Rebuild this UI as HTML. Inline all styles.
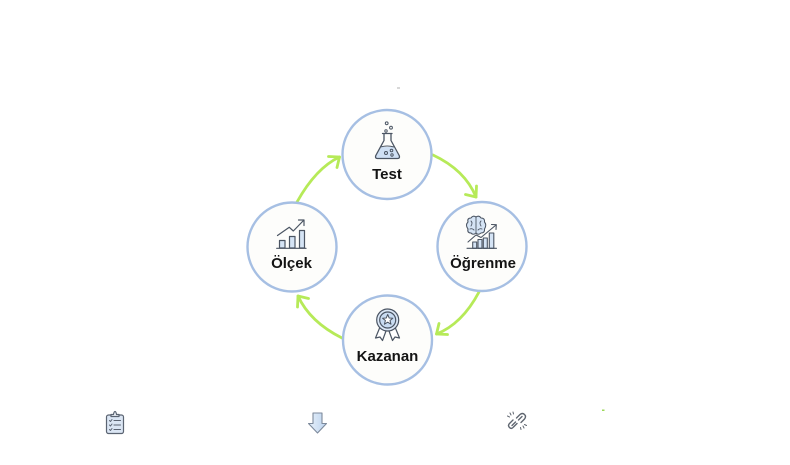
<!DOCTYPE html>
<html><head><meta charset="utf-8"><style>
html,body{margin:0;padding:0;background:#fff;width:790px;height:465px;overflow:hidden}
svg{display:block}
text{font-family:"Liberation Sans",Arial,sans-serif;font-weight:700;font-size:15px;fill:#141414;text-anchor:middle}
</style></head><body>
<svg width="790" height="465" viewBox="0 0 790 465" xmlns="http://www.w3.org/2000/svg">
<rect width="790" height="465" fill="#fff"/>
<!-- tiny marks -->
<rect x="397" y="87.5" width="3" height="1" fill="#b0b0b0"/>
<rect x="602" y="409.5" width="2.5" height="1.5" fill="#9cd85a"/>

<!-- arrows -->
<g fill="none" stroke="#b6ea58" stroke-width="2.8" stroke-linecap="round" stroke-linejoin="round">
  <path d="M297,202 Q316,168 339.5,157"/>
  <path d="M328.5,156.5 L339.5,157 L337,167.5"/>
  <path d="M433,155 Q465,170 476,197"/>
  <path d="M476.5,186 L476,197 L465.5,194.5"/>
  <path d="M479,292 Q462,324 436.5,334"/>
  <path d="M447.5,334.5 L436.5,334 L439,323.5"/>
  <path d="M342,338 Q310,322 298,296"/>
  <path d="M297.5,307 L298,296 L308.5,298.5"/>
</g>

<!-- circles -->
<g fill="#fdfdfb" stroke="#a6bfe3" stroke-width="2.4">
  <circle cx="387" cy="154.5" r="44.5"/>
  <circle cx="482" cy="246.5" r="44.5"/>
  <circle cx="387.5" cy="340" r="44.5"/>
  <circle cx="292" cy="247" r="44.5"/>
</g>

<!-- Test flask icon -->
<g stroke="#4b5563" stroke-width="1.3" stroke-linejoin="round" stroke-linecap="round">
  <path d="M381.5,147 L393,147 L399.5,156 Q400.5,158.5 398,158.5 L377,158.5 Q374.5,158.5 375.5,156 Z" fill="#cfe0f4" stroke="none"/>
  <path d="M382.5,133.5 L392,133.5 M384,133.5 L384,140.5 L375.8,155.5 Q374.8,158.5 377.5,158.5 L397.5,158.5 Q400.2,158.5 399.2,155.5 L391,140.5 L391,133.5" fill="none"/>
  <path d="M380.5,147 Q387,145 394,147" fill="none" stroke-width="1"/>
  <circle cx="386.7" cy="123.3" r="1.4" fill="none" stroke-width="1"/>
  <circle cx="391" cy="127.7" r="1.4" fill="none" stroke-width="1"/>
  <circle cx="386" cy="131" r="1.2" fill="none" stroke-width="1"/>
  <circle cx="386" cy="153" r="1.5" fill="none" stroke-width="1"/>
  <circle cx="391.5" cy="150.5" r="1.3" fill="none" stroke-width="1"/>
  <circle cx="392" cy="155" r="1.2" fill="none" stroke-width="1"/>
</g>
<text x="387" y="179">Test</text>

<!-- Ölçek chart icon -->
<g stroke="#4b5563" stroke-width="1.2" stroke-linejoin="round" stroke-linecap="round">
  <rect x="279.5" y="240.5" width="5.5" height="7.5" fill="#d5e4f5"/>
  <rect x="289.5" y="236.5" width="5.5" height="11.5" fill="#d5e4f5"/>
  <rect x="299.5" y="230.5" width="5" height="17.5" fill="#d5e4f5"/>
  <path d="M276.7,248.3 L306,248.3" fill="none"/>
  <path d="M277.5,235.5 L289.3,227.3 L293.3,231 L303.5,220.5" fill="none"/>
  <path d="M298.5,220 L304,220 L304,225.5" fill="none"/>
</g>
<text x="291.5" y="268">Ölçek</text>

<!-- Öğrenme brain+chart icon -->
<g stroke="#4b5563" stroke-width="1.1" stroke-linejoin="round" stroke-linecap="round">
  <path d="M468,229 Q465,225 468,222 Q467,218 471,218 Q473,215 476,217 Q479,215 481,218 Q485,218 484.5,222 Q487,225 484.5,229 Q485,233 481,233 Q478,235.5 476,233 Q473,235.5 471,233 Q467,233 468,229 Z" fill="#d5e4f5"/>
  <path d="M476,217 L476,233 M471,221 Q473,223 471,226 M481,221 Q479,223 481,226 M470,229 Q472,228 474,230 M482,229 Q480,228 478,230" fill="none" stroke-width="0.9"/>
  <rect x="472.7" y="242" width="4" height="6.3" fill="#d5e4f5"/>
  <rect x="478" y="239.5" width="4" height="8.8" fill="#d5e4f5"/>
  <rect x="483.3" y="238" width="4" height="10.3" fill="#d5e4f5"/>
  <rect x="489.3" y="233" width="4.5" height="15.3" fill="#d5e4f5"/>
  <path d="M467,248.3 L496.5,248.3" fill="none"/>
  <path d="M468,242 L476,235 L481,237.5 L496,225" fill="none"/>
  <path d="M491.5,224.5 L496.3,224.7 L496,229.5" fill="none"/>
</g>
<text x="483" y="268">Öğrenme</text>

<!-- Kazanan medal icon -->
<g stroke="#4b5563" stroke-width="1.2" stroke-linejoin="round" stroke-linecap="round">
  <path d="M380,327 L375.5,338 L380,337 L382.5,340.5 L386,331 Z" fill="#fff"/>
  <path d="M395,327 L399.5,338 L395,337 L392.5,340.5 L389,331 Z" fill="#fff"/>
  <circle cx="387.7" cy="320" r="11" fill="#dbe7f6"/>
  <circle cx="387.7" cy="320" r="8" fill="#c9dcf2"/>
  <path d="M387.7,314.5 L389.2,318 L392.8,318.2 L390,320.5 L391,324.2 L387.7,322.2 L384.4,324.2 L385.4,320.5 L382.6,318.2 L386.2,318 Z" fill="#fff" stroke-width="1"/>
</g>
<text x="387.5" y="361">Kazanan</text>

<!-- bottom icons -->
<!-- clipboard -->
<g stroke="#5b6472" stroke-width="1.2" stroke-linejoin="round" stroke-linecap="round">
  <rect x="106.5" y="415" width="17" height="18.5" rx="2" fill="#dbe6f4"/>
  <path d="M111,416.5 L111,414.5 L113.5,414.5 Q114,411.5 115,411.5 Q116,411.5 116.5,414.5 L119,414.5 L119,416.5 Z" fill="#eef3f9"/>
  <path d="M109.5,420.5 L110.5,421.5 L112,419.5 M109.5,425 L110.5,426 L112,424 M109.5,429.5 L110.5,430.5 L112,428.5" fill="none" stroke-width="1"/>
  <path d="M114,420.5 L120.5,420.5 M114,425 L120.5,425 M114,429.5 L120.5,429.5" fill="none" stroke-width="1.1"/>
</g>
<!-- down arrow -->
<defs><linearGradient id="ag" x1="0" y1="0" x2="1" y2="0"><stop offset="0" stop-color="#e8f1fb"/><stop offset="1" stop-color="#bcd3ee"/></linearGradient></defs>
<path d="M313,413 L322,413 L322,423.5 L326.5,423.5 L317.5,433 L308.5,423.5 L313,423.5 Z" fill="url(#ag)" stroke="#7d8a9c" stroke-width="1.1" stroke-linejoin="round"/>
<!-- broken link -->
<g stroke="#5f6670" stroke-width="1.4" fill="none" stroke-linecap="round">
  <path d="M516.5,418 L520,414.5 Q522.5,412.5 524.5,414.5 Q526.5,416.5 524.5,419 L521,422.5"/>
  <path d="M518.5,420 L522,416.5"/>
  <path d="M517,423.5 L513.5,427 Q511.5,429.5 509.5,427.5 Q507.5,425.5 509.5,423.5 L513,420"/>
  <path d="M512,425.5 L515.5,422"/>
  <path d="M510,413 L511,415 M507.5,416 L509.5,417 M513,412 L513.5,414 M524,428 L523,426 M526.5,425.5 L524.5,424.5 M521,429.5 L520.5,427.5" stroke-width="1"/>
</g>
</svg>
</body></html>
